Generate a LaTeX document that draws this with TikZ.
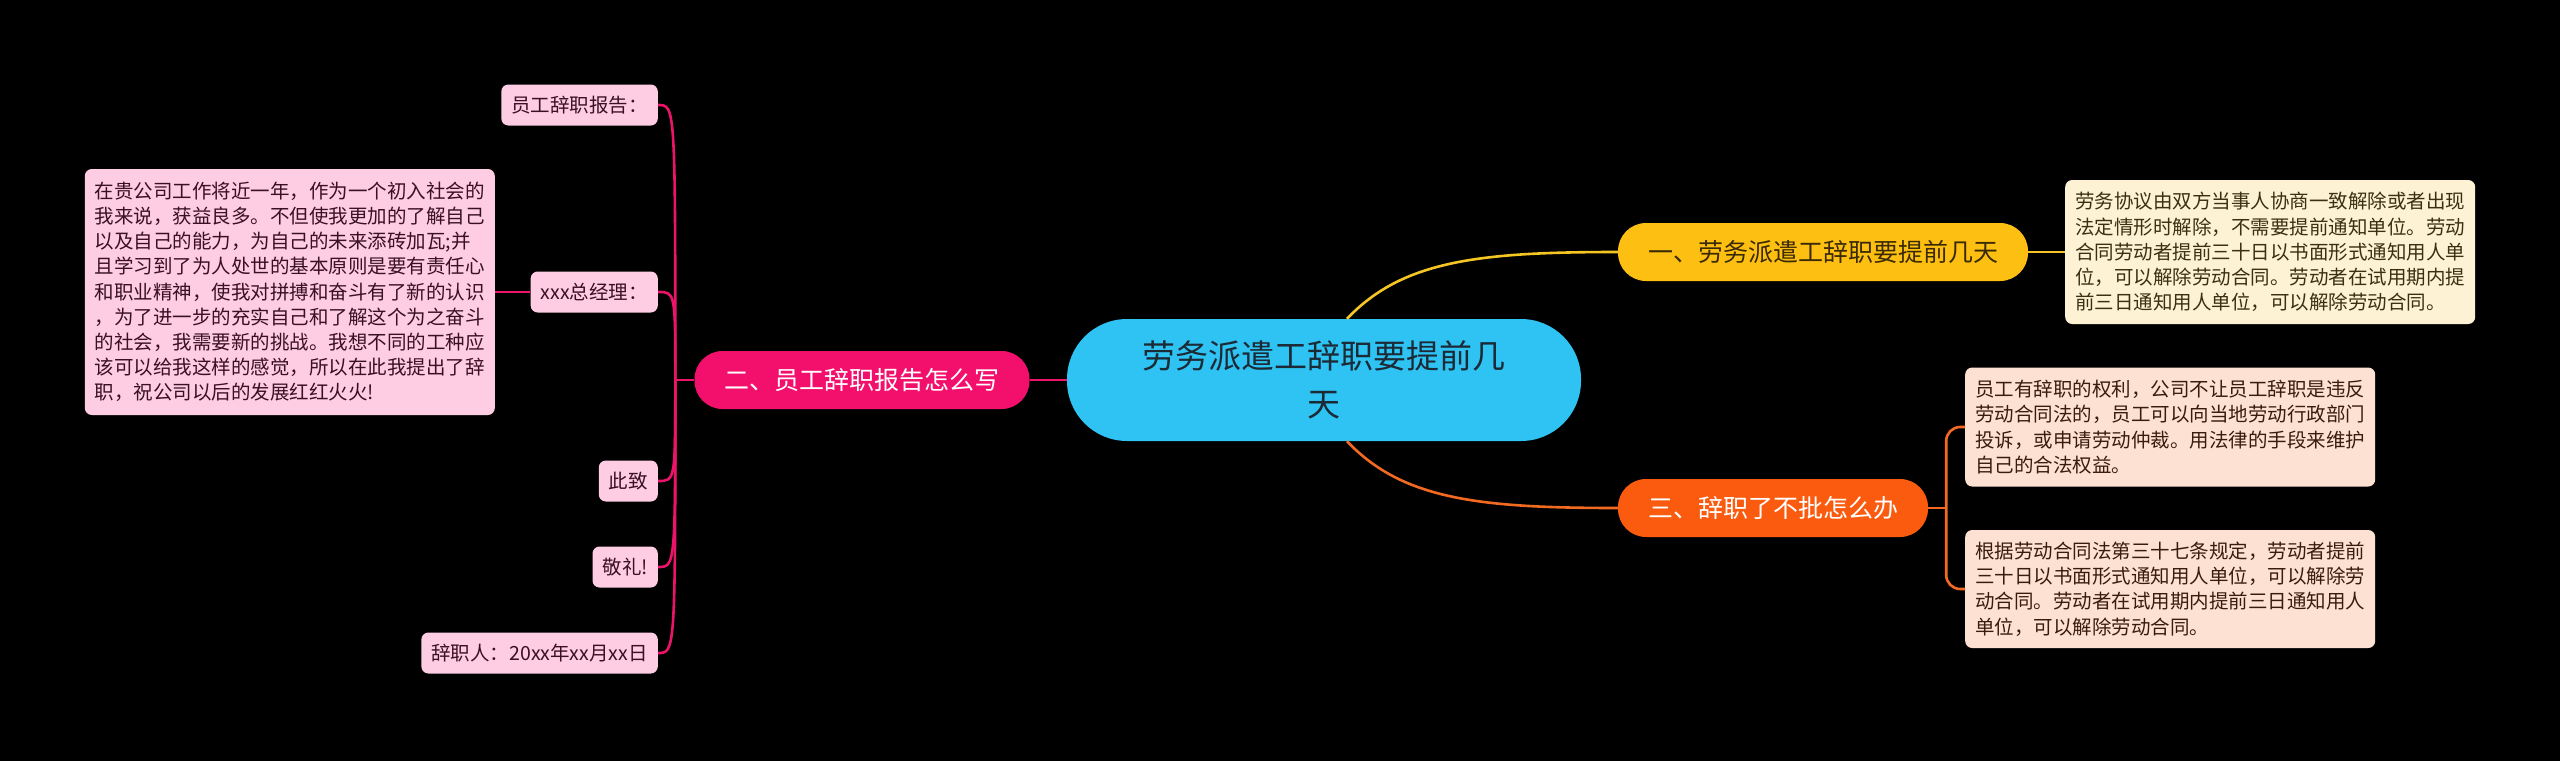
\documentclass[tikz,border=0pt]{standalone}
\usepackage{fontspec}
\newfontfamily\cjk{Noto Sans CJK SC}
\definecolor{cyanc}{HTML}{2EC3F3}
\definecolor{ctext}{HTML}{1C2A36}
\definecolor{yelc}{HTML}{FDBF12}
\definecolor{yline}{HTML}{F5C524}
\definecolor{ytext}{HTML}{3A2A05}
\definecolor{orac}{HTML}{FA5B0F}
\definecolor{oline}{HTML}{F26A22}
\definecolor{pinkc}{HTML}{F2106C}
\definecolor{pline}{HTML}{EC1469}
\definecolor{pleaf}{HTML}{FECDE3}
\definecolor{ptext}{HTML}{3A1024}
\definecolor{cream}{HTML}{FDF2D3}
\definecolor{ctxt}{HTML}{3A3012}
\definecolor{peach}{HTML}{FDE2D4}
\definecolor{petxt}{HTML}{3A1C0C}
\tikzset{
  cnode/.style={fill=cyanc, rounded corners=60pt, minimum width=514pt, minimum height=122pt,
    text=ctext, font=\cjk\fontsize{33}{48}\selectfont, align=center, inner sep=0pt},
  bnode/.style={rounded corners=28pt, minimum height=58pt, inner sep=0pt,
    font=\cjk\fontsize{25}{30}\selectfont},
  leafbox/.style={rounded corners=7pt, inner xsep=10pt, inner ysep=0pt, align=left,
    font=\cjk\fontsize{19.5}{25.2}\selectfont},
  pinkleaf/.style={leafbox, fill=pleaf, text=ptext, minimum height=41pt, anchor=east},
  conn/.style={line width=2.6pt},
}
\begin{document}
\begin{tikzpicture}[x=1pt,y=-1pt]
\fill[black] (0,0) rectangle (2560,761);
\useasboundingbox (0,0) rectangle (2560,761);

% center and branches
\node[cnode] (c) at (1324,380) {劳务派遣工辞职要提前几\\天};
\node[bnode, fill=yelc, text=ytext, minimum width=410pt] (b1) at (1823,252) {一、劳务派遣工辞职要提前几天};
\node[bnode, fill=orac, text=white, minimum width=310pt] (b3) at (1773,508) {三、辞职了不批怎么办};
\node[bnode, fill=pinkc, text=white, minimum width=335pt] (b2) at (862,380) {二、员工辞职报告怎么写};

% right leaves
\node[leafbox, fill=cream, text=ctxt, minimum height=144pt, anchor=west] (l1) at (2065,252) {劳务协议由双方当事人协商一致解除或者出现\\法定情形时解除，不需要提前通知单位。劳动\\合同劳动者提前三十日以书面形式通知用人单\\位，可以解除劳动合同。劳动者在试用期内提\\前三日通知用人单位，可以解除劳动合同。};
\node[leafbox, fill=peach, text=petxt, minimum height=119pt, anchor=west] (l3a) at (1965,427) {员工有辞职的权利，公司不让员工辞职是违反\\劳动合同法的，员工可以向当地劳动行政部门\\投诉，或申请劳动仲裁。用法律的手段来维护\\自己的合法权益。};
\node[leafbox, fill=peach, text=petxt, minimum height=118pt, anchor=west] (l3b) at (1965,589) {根据劳动合同法第三十七条规定，劳动者提前\\三十日以书面形式通知用人单位，可以解除劳\\动合同。劳动者在试用期内提前三日通知用人\\单位，可以解除劳动合同。};

% left leaves
\node[pinkleaf] (p1) at (658,105) {员工辞职报告：};
\node[pinkleaf] (p2) at (658,292) {xxx总经理：};
\node[pinkleaf] (p3) at (658,481) {此致};
\node[pinkleaf] (p4) at (658,567) {敬礼!};
\node[pinkleaf] (p5) at (658,653) {辞职人：20xx年xx月xx日};
\node[leafbox, fill=pleaf, text=ptext, minimum height=246pt, anchor=east] (big) at (495,292) {在贵公司工作将近一年，作为一个初入社会的\\我来说，获益良多。不但使我更加的了解自己\\以及自己的能力，为自己的未来添砖加瓦;并\\且学习到了为人处世的基本原则是要有责任心\\和职业精神，使我对拼搏和奋斗有了新的认识\\，为了进一步的充实自己和了解这个为之奋斗\\的社会，我需要新的挑战。我想不同的工种应\\该可以给我这样的感觉，所以在此我提出了辞\\职，祝公司以后的发展红红火火!};

% connectors
\begin{scope}[on background layer/.style={}]
\end{scope}
\draw[conn, yline] ([xshift=23pt]c.north) .. controls +(55,-58) and +(-140,0) .. (b1.west);
\draw[conn, oline] ([xshift=23pt]c.south) .. controls +(55,58) and +(-140,0) .. (b3.west);
\draw[conn, pline] (c.west) -- (b2.east);
\draw[conn, yline] (b1.east) -- (l1.west);
\draw[conn, oline] (b3.east) -- ++(18,0) coordinate (oj);
\draw[conn, oline, rounded corners=14pt] (oj) |- (l3a.west);
\draw[conn, oline, rounded corners=14pt] (oj) |- (l3b.west);
\draw[conn, pline] (b2.west) -- ++(-19,0) coordinate (pj);
\foreach \p in {p1,p2,p3,p4,p5}{
  \draw[conn, pline] (pj) .. controls (pj |- \p.east) .. (\p.east);
}
\draw[conn, pline] (p2.west) -- (big.east);
\end{tikzpicture}
\end{document}
